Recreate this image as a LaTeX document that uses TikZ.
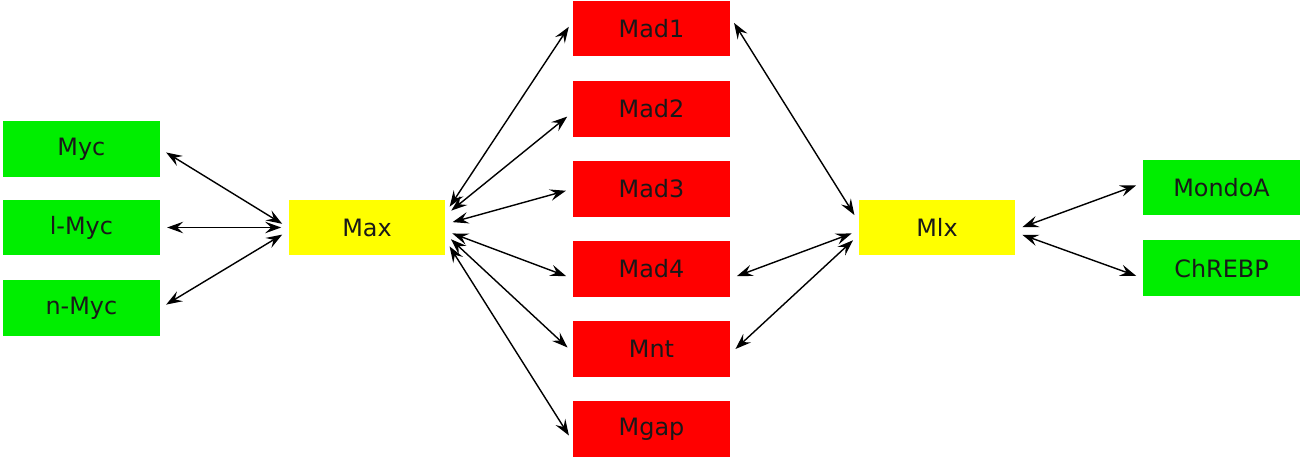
\documentclass[tikz,border=0pt]{standalone}
\usepackage{fontspec}
\setmainfont{DejaVu Sans}
\usetikzlibrary{positioning, arrows.meta}
\definecolor{netGreen}{HTML}{00EE00}
\definecolor{netYellow}{HTML}{FFFF00}
\definecolor{netRed}{HTML}{FF0000}

\begin{document}
\begin{tikzpicture}[x=0.02cm, y=-0.02cm, node distance=0.47cm,
  every node/.style={font=\fontsize{13.6}{16}\selectfont, text=black!90},
  gbox/.style={fill=netGreen, minimum width=3.14cm, minimum height=1.12cm, inner sep=0pt},
  ybox/.style={fill=netYellow, minimum width=3.14cm, minimum height=1.12cm, inner sep=0pt},
  rbox/.style={fill=netRed, minimum width=3.14cm, minimum height=1.12cm, inner sep=0pt},
  link/.style={{Stealth[length=3.2mm, width=2.3mm, inset=1.2mm]}-{Stealth[length=3.2mm, width=2.3mm, inset=1.2mm]},
    line width=0.8pt, shorten <=0.14cm, shorten >=0.14cm}]
  \useasboundingbox (0,0) rectangle (1308,476);

  \node[ybox] (max) at (367,227.5) {Max};
  \node[gbox, left=2.56cm of max] (lmyc) {l-Myc};
  \node[gbox, above=0.44cm of lmyc] (myc) {Myc};
  \node[gbox, below=0.48cm of lmyc] (nmyc) {n-Myc};

  \node[rbox] (mad1) at (651.5,28.5) {Mad1};
  \node[rbox, below=of mad1] (mad2) {Mad2};
  \node[rbox, below=of mad2] (mad3) {Mad3};
  \node[rbox, below=of mad3] (mad4) {Mad4};
  \node[rbox, below=of mad4] (mnt) {Mnt};
  \node[rbox, below=of mnt] (mgap) {Mgap};

  \node[ybox] (mlx) at (937,227.5) {Mlx};
  \node[gbox] (mondoa) at (1221.5,187.5) {MondoA};
  \node[gbox, below=0.48cm of mondoa] (chrebp) {ChREBP};

  % Myc family -- Max
  \draw[link] (myc.east) -- (max.west);
  \draw[link] (lmyc.east) -- (max.west);
  \draw[link] (nmyc.east) -- ([yshift=-0.07cm]max.west);

  % Max -- Mad column
  \draw[link] ([yshift=0.3cm]max.east) -- ([yshift=0.15cm]mad1.west);
  \draw[link] ([yshift=0.25cm]max.east) -- ([yshift=-0.07cm]mad2.west);
  \draw[link] ([yshift=0.07cm]max.east) -- (mad3.west);
  \draw[link] ([yshift=-0.07cm]max.east) -- ([yshift=-0.19cm]mad4.west);
  \draw[link] ([yshift=-0.14cm]max.east) -- ([yshift=-0.06cm]mnt.west);
  \draw[link] ([yshift=-0.26cm]max.east) -- ([yshift=-0.24cm]mgap.west);

  % Mad column -- Mlx
  \draw[link] ([yshift=0.23cm]mad1.east) -- ([yshift=0.13cm]mlx.west);
  \draw[link] ([yshift=-0.19cm]mad4.east) -- ([yshift=-0.07cm]mlx.west);
  \draw[link] ([yshift=-0.09cm]mnt.east) -- ([yshift=-0.16cm]mlx.west);

  % Mlx -- partners
  \draw[link] ([yshift=-0.04cm]mlx.east) -- ([yshift=0.09cm]mondoa.west);
  \draw[link] ([yshift=-0.1cm]mlx.east) -- ([yshift=-0.2cm]chrebp.west);
\end{tikzpicture}
\end{document}
